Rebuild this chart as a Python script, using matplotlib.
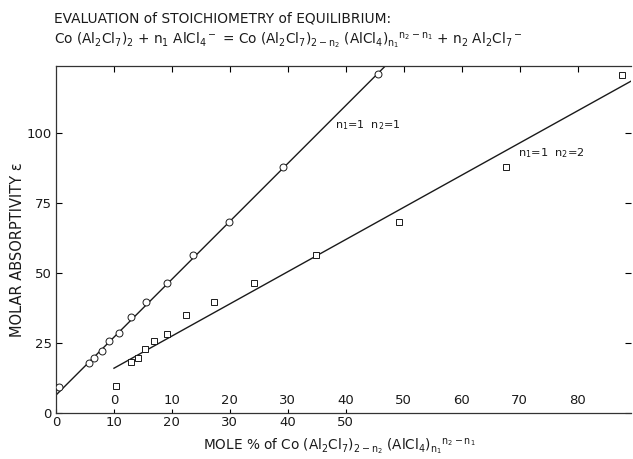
import matplotlib
matplotlib.use("Agg")
import numpy as np
from matplotlib import pyplot as plt

plt.rcParams['font.family'] = ['DejaVu Sans']
plt.rcParams['mathtext.fontset'] = 'dejavusans'
plt.rcParams['mathtext.default'] = 'regular'

# circles: n1=1 n2=1, read on the lower x scale
circ_x = [0.6, 5.7, 6.6, 7.9, 9.1, 10.9, 12.9, 15.6, 19.1, 23.7, 29.9, 39.2, 55.5]
circ_y = [9.2, 18.0, 19.5, 22.3, 25.6, 28.5, 34.2, 39.8, 46.3, 56.4, 68.3, 88.0, 121.3]

# squares: n1=1 n2=2, read on the upper (shifted) x scale
sq_x = [0.3, 3.0, 4.1, 5.4, 6.9, 9.1, 12.4, 17.3, 24.2, 34.8, 49.1, 67.7, 87.7]
sq_y = [9.6, 18.1, 19.8, 22.7, 25.7, 28.1, 35.0, 39.6, 46.3, 56.4, 68.3, 88.0, 120.7]

# straight line fits (intercept, slope)
fit1 = (6.4, 2.07)
fit2 = (16.0, 1.15)

y_ticks = [0, 25, 50, 75, 100]
low_ticks = [0, 10, 20, 30, 40, 50]
up_ticks = [0, 10, 20, 30, 40, 50, 60, 70, 80]
top_ticks = [10, 20, 30, 40, 50, 60, 70, 80, 90]
shift = 10  # upper scale zero sits at lower scale 10

xmax = 99.2
ymax = 124
ink = '#1a1a1a'

fig = plt.figure(figsize=(6.33, 4.59), dpi=100)
ax = fig.add_axes([56/633, 46/459, 575/633, 347/459])
ax.set_xlim(0, xmax)
ax.set_ylim(0, ymax)

# circles and their line
b, m = fit1
xx = np.array([0, (ymax - b) / m])
ax.plot(xx, b + m * xx, color=ink, lw=1.0)
ax.plot(circ_x, circ_y, 'o', ms=5, mfc='white', mec=ink, mew=0.7, zorder=3)

# squares on a shifted twin x axis (its own ticks hidden)
ax2 = ax.twiny()
ax2.set_xlim(-shift, xmax - shift)
b, m = fit2
xx = np.array([0, xmax - shift])
ax2.plot(xx, b + m * xx, color=ink, lw=1.0)
ax2.plot(sq_x, sq_y, 's', ms=4.2, mfc='white', mec=ink, mew=0.7, zorder=3)
ax2.set_xticks([])
for s in ax2.spines.values():
    s.set_visible(False)

# upper scale labels, printed just above the bottom edge
upper = ax.secondary_xaxis(0.0535, functions=(lambda x: x - shift, lambda x: x + shift))
upper.set_xticks(up_ticks)
upper.tick_params(length=0, pad=0, labelsize=9.5, labelcolor=ink)
upper.spines['bottom'].set_visible(False)
upper.spines['top'].set_visible(False)

# lower axis
ax.set_xticks(low_ticks)
ax.set_yticks(y_ticks)
ax.tick_params(axis='x', direction='in', length=3, width=0.8, labelsize=9.5,
               labelcolor=ink, pad=2)
ax.tick_params(axis='y', direction='in', length=4, width=0.8, labelsize=9.5,
               labelcolor=ink, right=True, pad=3)
ax.spines['right'].set_visible(False)
for k in ['left', 'bottom', 'top']:
    ax.spines[k].set_linewidth(0.9)
    ax.spines[k].set_color('#333333')

# ticks along the top edge
top = ax.secondary_xaxis('top')
top.set_xticks(top_ticks)
top.tick_params(direction='in', length=4, width=0.8, labeltop=False)
top.spines['top'].set_visible(False)

ax.text(48.1, 103, 'n$_1$=1  n$_2$=1', fontsize=8, color=ink, va='center')
ax2.text(79.7 - shift, 93, 'n$_1$=1  n$_2$=2', fontsize=8.2, color=ink,
         va='center')

fig.text(54/633, 1 - 18/459, 'EVALUATION of STOICHIOMETRY of EQUILIBRIUM:',
         fontsize=9.9, color=ink, va='center')
fig.text(54/633, 1 - 41/459,
         r'Co (Al$_2$Cl$_7$)$_2$ + n$_1$ AlCl$_4$$^-$ = Co (Al$_2$Cl$_7$)$_{2-n_2}$'
         r' (AlCl$_4$)$_{n_1}$$^{n_2-n_1}$ + n$_2$ Al$_2$Cl$_7$$^-$',
         fontsize=9.8, color=ink, va='center')
fig.text(339/633, 1 - 447/459,
         r'MOLE % of Co (Al$_2$Cl$_7$)$_{2-n_2}$ (AlCl$_4$)$_{n_1}$$^{n_2-n_1}$',
         fontsize=9.8, color=ink, ha='center', va='center')
fig.text(18/633, 1 - 250/459, 'MOLAR ABSORPTIVITY ε', fontsize=10.5, color=ink,
         rotation=90, ha='center', va='center')

fig.savefig('out.png', dpi=100)
